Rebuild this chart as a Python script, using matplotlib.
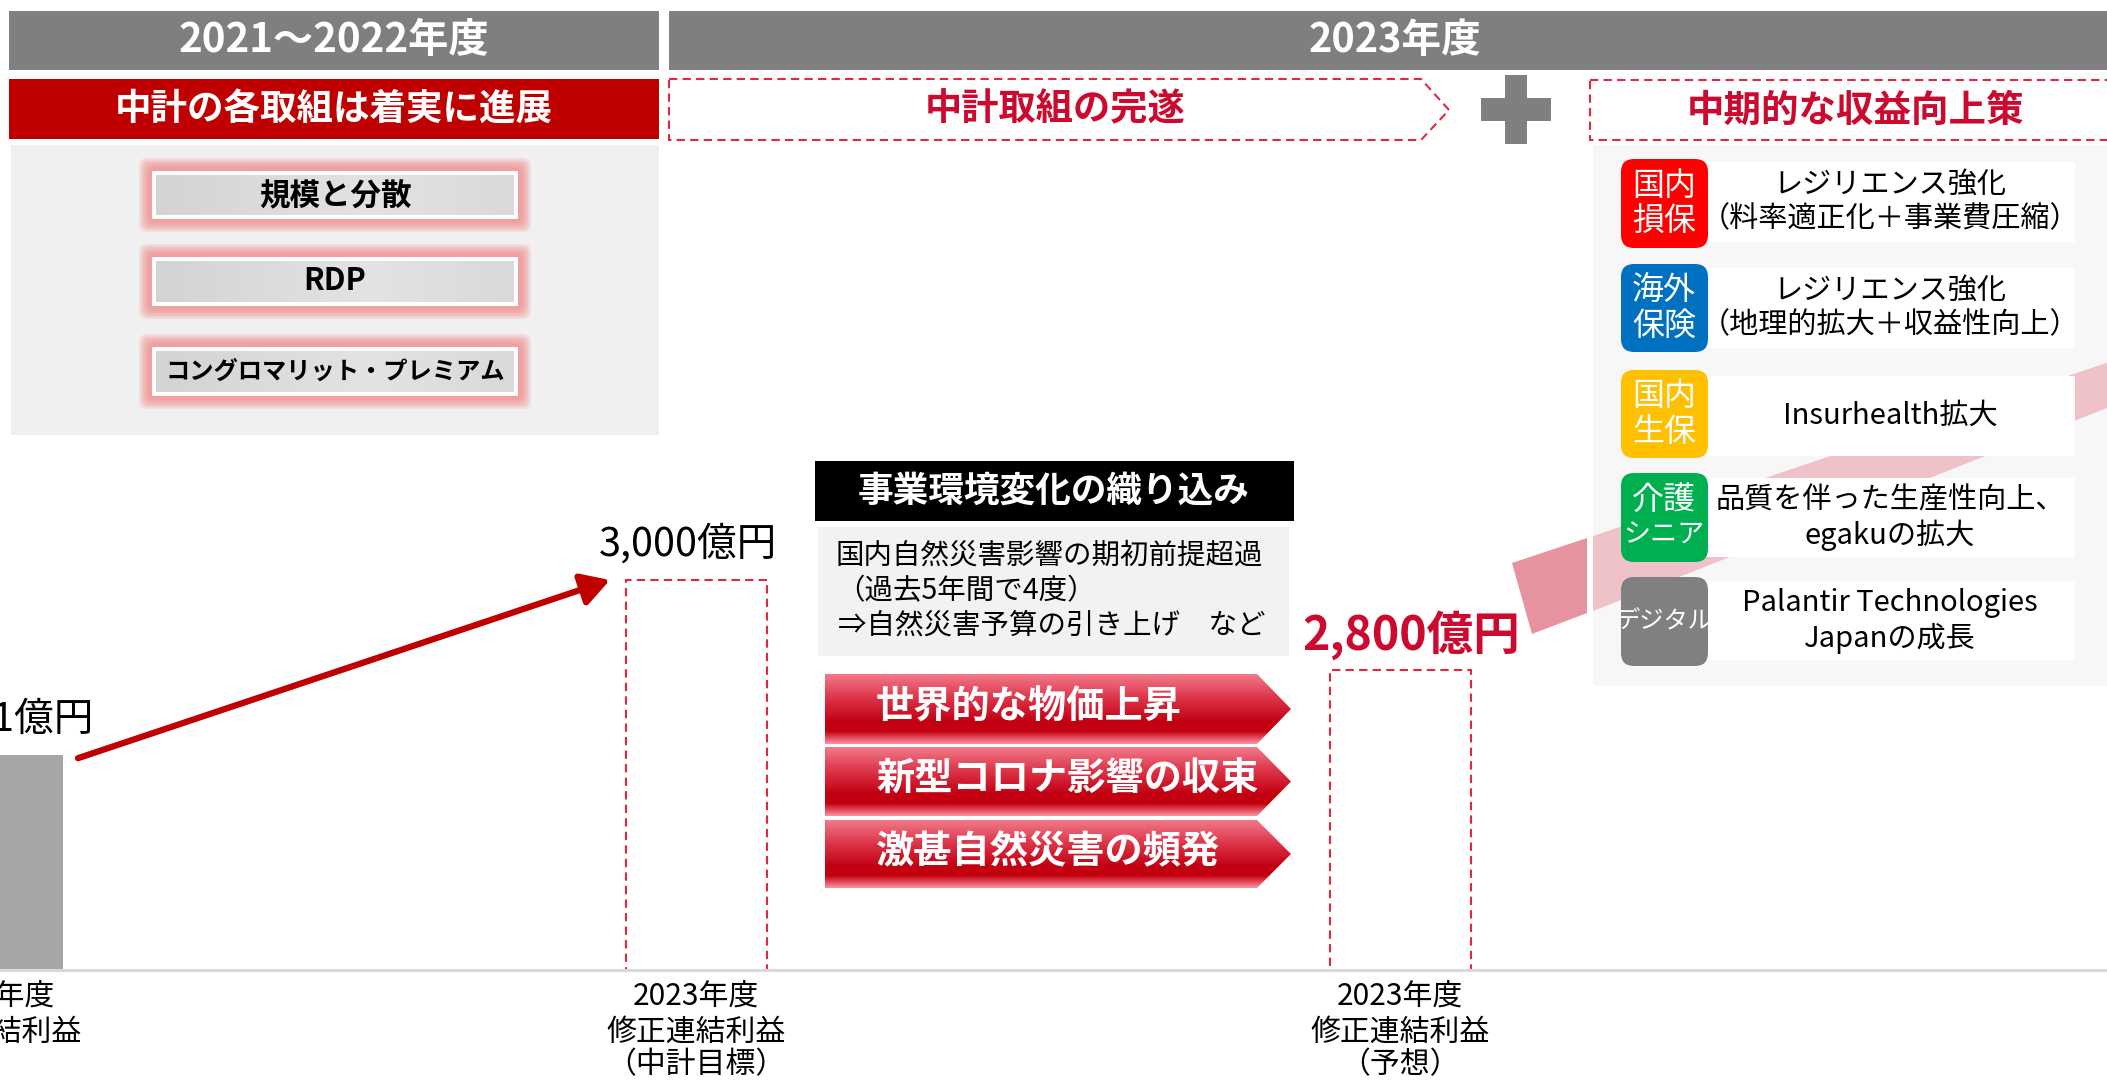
import matplotlib
matplotlib.use('Agg')
import matplotlib.pyplot as plt
from matplotlib.patches import Rectangle, FancyBboxPatch, Polygon
from matplotlib.colors import LinearSegmentedColormap
import numpy as np

plt.rcParams['font.family'] = ['Noto Sans CJK JP', 'DejaVu Sans']

# ---------------- data ----------------
categories = ['2022年度\n修正連結利益',
              '2023年度\n修正連結利益\n（中計目標）',
              '2023年度\n修正連結利益\n（予想）']
values = [2611, 3000, 2800]
value_labels = ['2,611億円', '3,000億円', '2,800億円']

period_headers = ['2021～2022年度', '2023年度']
left_title = '中計の各取組は着実に進展'
initiatives = ['規模と分散', 'RDP', 'コングロマリット・プレミアム']
mid_title = '中計取組の完遂'
right_title = '中期的な収益向上策'
env_title = '事業環境変化の織り込み'
env_notes = ['国内自然災害影響の期初前提超過', '（過去5年間で4度）', '⇒自然災害予算の引き上げ　など']
env_factors = ['世界的な物価上昇', '新型コロナ影響の収束', '激甚自然災害の頻発']
segments = ['国内\n損保', '海外\n保険', '国内\n生保', '介護\nシニア', 'デジタル']
measures = ['レジリエンス強化\n（料率適正化＋事業費圧縮）',
            'レジリエンス強化\n（地理的拡大＋収益性向上）',
            'Insurhealth拡大',
            '品質を伴った生産性向上、\negakuの拡大',
            'Palantir Technologies\nJapanの成長']

# ---------------- styles / layout ----------------
W, H = 2107, 1080
GREY_HDR = '#7f7f7f'
DARK_RED = '#c00000'
CRIMSON = '#cc0a2f'
DASH_RED = '#e0283f'
seg_colors = ['#ff0000', '#0070c0', '#ffc000', '#00b050', '#808080']
bar_x = [-8, 696, 1400]
bar_w = 141
BASE_PX = 970
Y0 = 2133.3          # value at baseline (broken axis)
PX_PER_UNIT = 0.45

fig = plt.figure(figsize=(W / 100, H / 100), dpi=100)
ax0 = fig.add_axes([0, 0, 1, 1])
ax0.set_xlim(0, W)
ax0.set_ylim(H, 0)
ax0.axis('off')


def rect(x0, y0, x1, y1, **kw):
    p = Rectangle((x0, y0), x1 - x0, y1 - y0, **kw)
    ax0.add_patch(p)
    return p


def rrect(x0, y0, x1, y1, r, **kw):
    p = FancyBboxPatch((x0, y0), x1 - x0, y1 - y0,
                       boxstyle=f'round,pad=0,rounding_size={r}', **kw)
    ax0.add_patch(p)
    return p


def grad_fill(patch, x0, y0, x1, y1, colors, stops, z, horizontal=False):
    cmap = LinearSegmentedColormap.from_list('g', list(zip(stops, colors)))
    g = np.linspace(0, 1, 256)
    arr = g.reshape(1, -1) if horizontal else g.reshape(-1, 1)
    im = ax0.imshow(arr, cmap=cmap, extent=[x0, x1, y1, y0], origin='upper',
                    aspect='auto', zorder=z, interpolation='bicubic')
    im.set_clip_path(patch)


def mtext(x, yc, s, spacing, sizes, **kw):
    lines = s.split('\n')
    n = len(lines)
    for i, l in enumerate(lines):
        ax0.text(x, yc + (i - (n - 1) / 2) * spacing, l, ha='center', va='center',
                 fontsize=sizes[min(i, len(sizes) - 1)], **kw)


# ---------------- headers ----------------
rect(9, 11, 659, 70, color=GREY_HDR, lw=0, zorder=2)
rect(669, 11, W + 5, 70, color=GREY_HDR, lw=0, zorder=2)
ax0.text(334, 41, period_headers[0], color='white', fontsize=29, fontweight='bold',
         ha='center', va='center', zorder=5)
ax0.text(1395, 41, period_headers[1], color='white', fontsize=28.5, fontweight='bold',
         ha='center', va='center', zorder=5)

# left red title + panel
rect(9, 79, 659, 139, color=DARK_RED, lw=0, zorder=2)
ax0.text(334, 110, left_title, color='white', fontsize=26.3, fontweight='bold',
         ha='center', va='center', zorder=5)
rect(11, 145, 659, 435, color='#f0f0f0', lw=0, zorder=1)

btn_y = [(171, 219), (257, 306), (347, 396)]
btn_fs = [22, 22, 17.5]
for (y0, y1), label, fs in zip(btn_y, initiatives, btn_fs):
    for k in range(7):
        pad = 13 - k * 1.5
        rrect(152 - pad, y0 - pad, 518 + pad, y1 + pad, 8, color='#f07a7a',
              alpha=0.14, lw=0, zorder=2)
    rect(152, y0, 518, y1, color='white', lw=0, zorder=3)
    inner = rect(156, y0 + 4, 514, y1 - 4, color='none', lw=0, zorder=3)
    grad_fill(inner, 156, y0 + 4, 514, y1 - 4, ['#d3d3d3', '#e3e3e3', '#d9d9d9'],
              [0, 0.6, 1], 3.5, horizontal=True)
    ax0.text(335, (y0 + y1) / 2, label, color='black', fontsize=fs, fontweight='bold',
             ha='center', va='center', zorder=5)

# middle dashed pentagon
pent = Polygon([(669, 79), (1421, 79), (1449, 110), (1421, 140), (669, 140)], closed=True,
               fill=False, edgecolor=DASH_RED, lw=1.5, linestyle=(0, (4, 2.5)), zorder=3)
ax0.add_patch(pent)
ax0.text(1055, 110, mid_title, color=CRIMSON, fontsize=26.8, fontweight='bold',
         ha='center', va='center', zorder=5)

# plus sign
rect(1505, 75, 1527, 144, color=GREY_HDR, lw=0, zorder=3)
rect(1481, 98, 1551, 121, color=GREY_HDR, lw=0, zorder=3)

# right dashed box
rect(1590, 80, W + 20, 140, fill=False, edgecolor=DASH_RED, lw=1.5,
     linestyle=(0, (4, 2.5)), zorder=3)
ax0.text(1856, 110, right_title, color=CRIMSON, fontsize=27, fontweight='bold',
         ha='center', va='center', zorder=5)

# right panel
rect(1593, 145, W + 5, 686, color='#f7f7f7', lw=0, zorder=1)


# pink arrow band
def yu(x):
    return 536 - 0.337 * (x - 1593)


def yl(x):
    return 611 - 0.395 * (x - 1593)


xr = W + 60
ax0.add_patch(Polygon([(1593, yu(1593)), (xr, yu(xr)), (xr, yl(xr)), (1593, yl(1593))],
                      closed=True, color='#efc2c9', lw=0, zorder=2))
ax0.add_patch(Polygon([(1512, 563), (1587, 538), (1587, 613), (1532, 634)],
                      closed=True, color='#e7939f', lw=0, zorder=2))

row_lab = [(159, 248), (264, 352), (370, 458), (473, 562), (577, 666)]
row_box = [(162, 242), (268, 348), (376, 456), (478, 557), (581, 660)]
seg_fs = [[23], [23], [23], [23, 19.5], [17.5]]
for (ly0, ly1), (by0, by1), seg, meas, col, sfs in zip(row_lab, row_box, segments,
                                                      measures, seg_colors, seg_fs):
    rect(1706, by0, 2075, by1, color='white', lw=0, zorder=3)
    rrect(1621, ly0, 1708, ly1, 13, color=col, lw=0, zorder=4)
    mtext(1664, (ly0 + ly1) / 2, seg, 36, sfs, color='white', zorder=5)
    mtext(1890, (by0 + by1) / 2, meas, 35, [21], color='black', zorder=5)

# environment change block
rect(815, 461, 1294, 521, color='black', lw=0, zorder=3)
ax0.text(1054, 491, env_title, color='white', fontsize=25.7, fontweight='bold',
         ha='center', va='center', zorder=5)
rect(818, 527, 1289, 656, color='#f2f2f2', lw=0, zorder=2)
note_x = [836, 836, 838]
note_y = [556, 591, 626]
for x, y, t in zip(note_x, note_y, env_notes):
    ax0.text(x, y, t, color='black', fontsize=20.5, ha='left', va='center', zorder=5)

fac_y = [(674, 744), (747, 816), (820, 888)]
for (y0, y1), t in zip(fac_y, env_factors):
    ym = (y0 + y1) / 2
    poly = Polygon([(825, y0), (1257, y0), (1291, ym), (1257, y1), (825, y1)],
                   closed=True, facecolor='none', edgecolor='none', zorder=3)
    ax0.add_patch(poly)
    grad_fill(poly, 825, y0, 1291, y1,
              ['#f27a8a', '#dc3347', '#c20012', '#c4000f', '#ff93a3'],
              [0, 0.35, 0.68, 0.82, 1.0], 3)
    ax0.text(876, ym - 2, t, color='white', fontsize=27.5, fontweight='bold',
             ha='left', va='center', zorder=5)

ax0.set_xlim(0, W)
ax0.set_ylim(H, 0)

# ---------------- bar chart ----------------
axb = fig.add_axes([0, (H - BASE_PX) / H, 1, BASE_PX / H])
axb.set_xlim(0, W)
axb.set_ylim(Y0, Y0 + BASE_PX / PX_PER_UNIT)
axb.axis('off')
axb.patch.set_alpha(0)

axb.bar(bar_x[0], values[0], width=bar_w, color='#a6a6a6', lw=0, zorder=2)
axb.bar(bar_x[1:], values[1:], width=bar_w, fill=False, edgecolor=DASH_RED,
        linestyle=(0, (4, 2.5)), linewidth=1.5, zorder=2)
axb.axhline(Y0, color='#d9d9d9', lw=2.2, zorder=3, clip_on=False)

label_dx = [9, -6, 8]
for i, (x, v, lab, dx) in enumerate(zip(bar_x, values, value_labels, label_dx)):
    if i == 2:
        axb.annotate(lab, (x, v), xytext=(dx, 25), textcoords='offset points',
                     ha='center', va='center', fontsize=33.5, fontweight='bold',
                     color=CRIMSON, annotation_clip=False)
    else:
        axb.annotate(lab, (x, v), xytext=(dx, 26),
                     textcoords='offset points', ha='center', va='center',
                     fontsize=28.5, color='black', annotation_clip=False)

line_off_px = [27, 62, 95]
for x, cat in zip(bar_x, categories):
    for j, line in enumerate(cat.split('\n')):
        axb.annotate(line, (x, Y0), xytext=(0, -line_off_px[j] * 0.72),
                     textcoords='offset points', ha='center', va='center',
                     fontsize=21.5, color='black', annotation_clip=False)

# growth arrow
axb.annotate('', xy=(610, values[1]), xytext=(78, 2604),
             arrowprops=dict(arrowstyle='-|>,head_length=1.3,head_width=0.75',
                             lw=4.5, color=DARK_RED, mutation_scale=13,
                             shrinkA=0, shrinkB=0))

fig.savefig('out.png', dpi=100)
